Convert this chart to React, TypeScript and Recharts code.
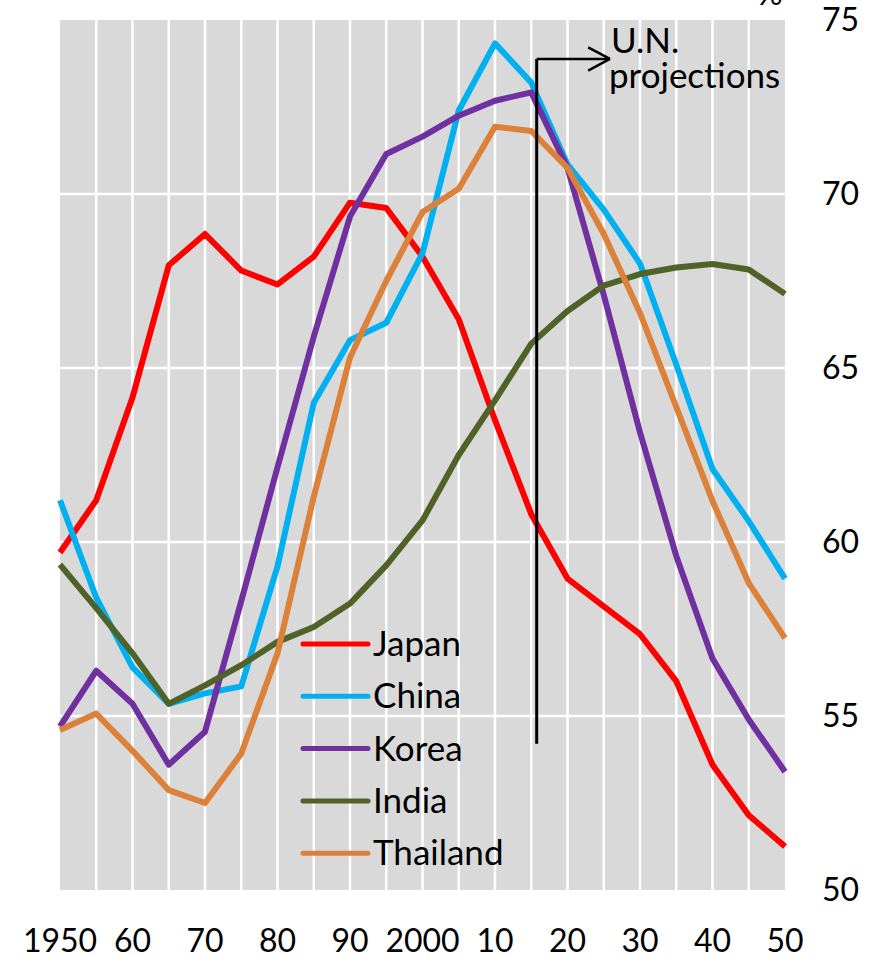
import React from 'react';
import {
  LineChart,
  Line,
  XAxis,
  YAxis,
  CartesianGrid,
  ReferenceLine,
} from 'recharts';

// five-year steps, 1950 to 2050
const years = [
  1950, 1955, 1960, 1965, 1970, 1975, 1980, 1985, 1990, 1995, 2000,
  2005, 2010, 2015, 2020, 2025, 2030, 2035, 2040, 2045, 2050,
];

const japan = [
  59.7, 61.2, 64.15, 67.95, 68.85, 67.8, 67.4, 68.2, 69.75, 69.6, 68.2,
  66.4, 63.5, 60.8, 58.95, 58.15, 57.35, 56.0, 53.6, 52.15, 51.25,
];
const china = [
  61.2, 58.4, 56.4, 55.35, 55.65, 55.85, 59.3, 64.0, 65.8, 66.3, 68.3,
  72.4, 74.33, 73.2, 70.85, 69.55, 68.0, 65.1, 62.1, 60.6, 58.95,
];
const korea = [
  54.7, 56.3, 55.35, 53.6, 54.55, 58.3, 62.15, 65.9, 69.35, 71.15, 71.65,
  72.25, 72.68, 72.92, 70.75, 67.1, 63.15, 59.6, 56.65, 54.9, 53.4,
];
const india = [
  59.35, 58.1, 56.8, 55.35, 55.88, 56.46, 57.13, 57.56, 58.23, 59.33, 60.62,
  62.5, 64.07, 65.7, 66.64, 67.37, 67.7, 67.89, 67.99, 67.83, 67.13,
];
const thailand = [
  54.6, 55.07, 54.0, 52.87, 52.5, 53.92, 56.8, 61.3, 65.3, 67.5, 69.48,
  70.15, 71.93, 71.81, 70.75, 68.85, 66.58, 63.88, 61.18, 58.82, 57.24,
];

const xTicks = [1950, 1960, 1970, 1980, 1990, 2000, 2010, 2020, 2030, 2040, 2050];
const xTickLabels = ['1950', '60', '70', '80', '90', '2000', '10', '20', '30', '40', '50'];
const yTicks = [50, 55, 60, 65, 70, 75];
const gridYears = [1955, 1960, 1965, 1970, 1975, 1980, 1985, 1990, 1995, 2000,
  2005, 2010, 2015, 2020, 2025, 2030, 2035, 2040, 2045];
const gridValues = [55, 60, 65, 70];

const series = [
  { key: 'japan', name: 'Japan', color: '#FF0000', values: japan },
  { key: 'china', name: 'China', color: '#00B0F0', values: china },
  { key: 'korea', name: 'Korea', color: '#7030A0', values: korea },
  { key: 'india', name: 'India', color: '#4F6228', values: india },
  { key: 'thailand', name: 'Thailand', color: '#DB8139', values: thailand },
];

// projection marker (year, value)
const projX = 2015.75;
const projBottom = 54.2;
const projTop = 73.88;
const arrowTip = 2025.85;
const arrowBack = 2022.85;
const arrowSpread = 0.335;

const data = years.map((year, i) => {
  const row: Record<string, number> = { year };
  series.forEach((s) => {
    row[s.key] = s.values[i];
  });
  return row;
});

const FONT = 'Lato, "Open Sans", sans-serif';

const XTick = ({ x, y, payload }: { x?: number; y?: number; payload?: { value: number } }) => {
  const idx = xTicks.indexOf(payload?.value ?? 0);
  return (
    <text x={x} y={y} dy="0.71em" textAnchor="middle" fontFamily={FONT} fontSize={32} fill="#000">
      {xTickLabels[idx]}
    </text>
  );
};

const YTick = ({ x, y, payload }: { x?: number; y?: number; payload?: { value: number } }) => (
  <text x={x} y={y} dy="0.355em" textAnchor="start" fontFamily={FONT} fontSize={32} fill="#000">
    {payload?.value}
  </text>
);

const black = { stroke: '#000', strokeWidth: 3 };

export default function App() {
  return (
    <div style={{ position: 'absolute', left: 0, top: 0, width: 872, height: 958, background: '#fff' }}>
      <LineChart
        width={872}
        height={958}
        data={data}
        margin={{ top: 20, right: 0, bottom: 0, left: 60 }}
      >
        <CartesianGrid
          fill="#D9D9D9"
          stroke="#FFFFFF"
          strokeWidth={2.5}
          verticalValues={gridYears}
          horizontalValues={gridValues}
        />
        <XAxis
          dataKey="year"
          type="number"
          domain={[1950, 2050]}
          ticks={xTicks}
          axisLine={false}
          tickLine={false}
          tickMargin={33}
          height={68}
          tick={<XTick />}
          interval={0}
        />
        <YAxis
          orientation="right"
          type="number"
          domain={[50, 75]}
          ticks={yTicks}
          axisLine={false}
          tickLine={false}
          tickMargin={31}
          width={87}
          tick={<YTick />}
          interval={0}
        />
        {series.map((s) => (
          <Line
            key={s.key}
            dataKey={s.key}
            name={s.name}
            stroke={s.color}
            strokeWidth={6}
            strokeLinejoin="round"
            dot={false}
            activeDot={false}
            isAnimationActive={false}
          />
        ))}
        <ReferenceLine segment={[{ x: projX, y: projBottom }, { x: projX, y: projTop }]} {...black} />
        <ReferenceLine segment={[{ x: projX, y: projTop }, { x: arrowTip, y: projTop }]} strokeWidth={2.5} stroke="#000" />
        <ReferenceLine
          segment={[{ x: arrowBack, y: projTop + arrowSpread }, { x: arrowTip, y: projTop }]}
          strokeWidth={2.5}
          stroke="#000"
        />
        <ReferenceLine
          segment={[{ x: arrowBack, y: projTop - arrowSpread }, { x: arrowTip, y: projTop }]}
          strokeWidth={2.5}
          stroke="#000"
        />
      </LineChart>
      <svg
        width={872}
        height={958}
        style={{ position: 'absolute', left: 0, top: 0, pointerEvents: 'none' }}
      >
        <text x={757} y={5} fontFamily={FONT} fontSize={32} fill="#000">%</text>
        <text x={611} y={53} fontFamily={FONT} fontSize={35} fill="#000">U.N.</text>
        <text x={609} y={88} fontFamily={FONT} fontSize={35} fill="#000">projections</text>
        {series.map((s, i) => {
          const cy = 644 + i * 52.3;
          return (
            <g key={s.key}>
              <line x1={303} x2={368} y1={cy} y2={cy} stroke={s.color} strokeWidth={5} strokeLinecap="round" />
              <text x={373} y={cy + 12} fontFamily={FONT} fontSize={35} fill="#000">{s.name}</text>
            </g>
          );
        })}
      </svg>
    </div>
  );
}
